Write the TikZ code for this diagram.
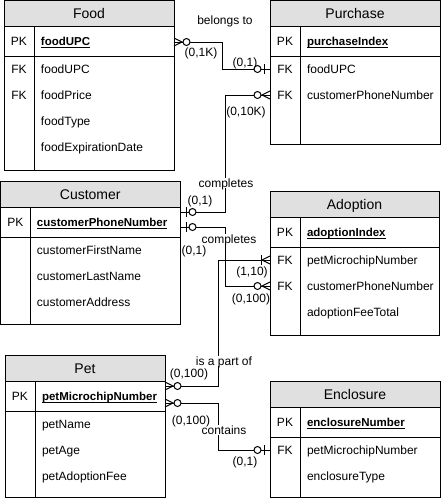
\documentclass[tikz,border=0pt]{standalone}
\usepackage{fontspec}
\setmainfont{Liberation Sans}
\usetikzlibrary{calc}
\definecolor{hdr}{RGB}{224,224,224}
\newcommand{\pkul}[1]{\setbox0\hbox{#1}\rlap{\rule[-3pt]{\wd0}{0.9pt}}\box0}
\tikzset{
  every node/.style={inner sep=0pt, outer sep=0pt, text height=8.6pt, text depth=0pt,
    font=\fontsize{12}{14}\selectfont},
  ttl/.style={font=\fontsize{14}{16}\selectfont, text height=10pt, anchor=center},
  keytxt/.style={anchor=center},
  rowtxt/.style={anchor=west},
  pktxt/.style={anchor=west, font=\fontsize{11.5}{14}\selectfont\bfseries},
  tbox/.style={draw, line width=1pt, anchor=north west},
  conn/.style={line width=1pt},
  lbl/.style={anchor=center, fill=white, inner sep=1pt},
  card/.style={anchor=center},
}
\newcommand{\ertab}[6]{%
  \node[tbox, minimum width={(#4-#2)*1pt}, minimum height={(#5-#3)*1pt}] (#1) at (#2,#3) {};
  \filldraw[conn, fill=hdr] (#2,#3) rectangle (#4,{#3+26});
  \draw[conn] (#2,{#3+56}) -- (#4,{#3+56});
  \draw[conn] ({#2+30},{#3+26}) -- ({#2+30},#5);
  \node[ttl] (#1-t) at ({(#2+#4)/2},{#3+13}) {#6};
}
% zero-or-many
\newcommand{\mkzm}[2]{%
  \draw[conn] ([yshift=4pt]#1) -- ($(#1)+(8*#2,0)$) -- ([yshift=-4pt]#1);
  \draw[conn, fill=white] ($(#1)+(12.5*#2,0)$) circle[radius=3.5pt];
}
% zero-or-one
\newcommand{\mkzo}[2]{%
  \draw[conn] ($(#1)+(6*#2,-5)$) -- ($(#1)+(6*#2,5)$);
  \draw[conn, fill=white] ($(#1)+(12.5*#2,0)$) circle[radius=3.5pt];
}
% one-or-many
\newcommand{\mkom}[2]{%
  \draw[conn] ([yshift=4pt]#1) -- ($(#1)+(8*#2,0)$) -- ([yshift=-4pt]#1);
  \draw[conn] ($(#1)+(9*#2,-5)$) -- ($(#1)+(9*#2,5)$);
}
\begin{document}
\begin{tikzpicture}[x=1pt, y=-1pt]
\useasboundingbox (0,0) rectangle (441,499);

% ---------- Food ----------
\ertab{food}{4}{0.5}{174}{170}{Food}
\node[keytxt] (food-pkk) at (19,41) {PK};
\node[pktxt] (food-pk) at (41,41) {\pkul{foodUPC}};
\node[keytxt] (food-k1) at (19,69) {FK};
\node[rowtxt] (food-r1) at (41,69) {foodUPC};
\node[keytxt] (food-k2) at (19,95) {FK};
\node[rowtxt] (food-r2) at (41,95) {foodPrice};
\node[rowtxt] (food-r3) at (41,121) {foodType};
\node[rowtxt] (food-r4) at (41,147) {foodExpirationDate};

% ---------- Purchase ----------
\ertab{purchase}{270}{0.5}{440}{144}{Purchase}
\node[keytxt] (purchase-pkk) at (285,41) {PK};
\node[pktxt] (purchase-pk) at (307,41) {\pkul{purchaseIndex}};
\node[keytxt] (purchase-k1) at (285,69) {FK};
\node[rowtxt] (purchase-r1) at (307,69) {foodUPC};
\node[keytxt] (purchase-k2) at (285,95) {FK};
\node[rowtxt] (purchase-r2) at (307,95) {customerPhoneNumber};

% ---------- Customer ----------
\ertab{customer}{0.5}{181}{180}{324}{Customer}
\node[keytxt] (customer-pkk) at (15.5,222) {PK};
\node[pktxt] (customer-pk) at (37,222) {\pkul{customerPhoneNumber}};
\node[rowtxt] (customer-r1) at (37,250) {customerFirstName};
\node[rowtxt] (customer-r2) at (37,276) {customerLastName};
\node[rowtxt] (customer-r3) at (37,302) {customerAddress};

% ---------- Adoption ----------
\ertab{adoption}{270}{191}{439}{335}{Adoption}
\node[keytxt] (adoption-pkk) at (285,232) {PK};
\node[pktxt] (adoption-pk) at (307,232) {\pkul{adoptionIndex}};
\node[keytxt] (adoption-k1) at (285,260) {FK};
\node[rowtxt] (adoption-r1) at (307,260) {petMicrochipNumber};
\node[keytxt] (adoption-k2) at (285,286) {FK};
\node[rowtxt] (adoption-r2) at (307,286) {customerPhoneNumber};
\node[rowtxt] (adoption-r3) at (307,312) {adoptionFeeTotal};

% ---------- Pet ----------
\ertab{pet}{5}{355}{165}{497}{Pet}
\node[keytxt] (pet-pkk) at (20,396) {PK};
\node[pktxt] (pet-pk) at (42,396) {\pkul{petMicrochipNumber}};
\node[rowtxt] (pet-r1) at (42,424) {petName};
\node[rowtxt] (pet-r2) at (42,450) {petAge};
\node[rowtxt] (pet-r3) at (42,476) {petAdoptionFee};

% ---------- Enclosure ----------
\ertab{enclosure}{270}{381}{440}{497}{Enclosure}
\node[keytxt] (enclosure-pkk) at (285,422) {PK};
\node[pktxt] (enclosure-pk) at (307,422) {\pkul{enclosureNumber}};
\node[keytxt] (enclosure-k1) at (285,450) {FK};
\node[rowtxt] (enclosure-r1) at (307,450) {petMicrochipNumber};
\node[rowtxt] (enclosure-r2) at (307,476) {enclosureType};

% ---------- connector end points ----------
\coordinate (fo1) at ([yshift=-1pt]food.east |- food-pk);
\coordinate (pu1) at (purchase.west |- purchase-r1);
\coordinate (cu1) at ([yshift=10pt]customer.east |- customer-pk);
\coordinate (pu2) at (purchase.west |- purchase-r2);
\coordinate (cu2) at ([yshift=-5pt]customer.east |- customer-pk);
\coordinate (ad2) at (adoption.west |- adoption-r2);
\coordinate (pe1) at ([yshift=10pt]pet.east |- pet-pk);
\coordinate (ad1) at (adoption.west |- adoption-r1);
\coordinate (pe2) at ([yshift=-7pt]pet.east |- pet-pk);
\coordinate (en1) at (enclosure.west |- enclosure-r1);

% ---------- connectors ----------
\draw[conn] (fo1) -- ++(48,0) |- (pu1);
\draw[conn] (cu1) -- ++(45,0) |- (pu2);
\draw[conn] (cu2) -- ++(45,0) |- (ad2);
\draw[conn] (pe1) -- ++(53,0) |- (ad1);
\draw[conn] (pe2) -- ++(53,0) |- (en1);

% ---------- labels ----------
\node[lbl] (l-belongs) at (225,20) {belongs to};
\node[lbl] (l-comp1) at (226,183) {completes};
\node[lbl] (l-comp2) at (229,239) {completes};
\node[lbl] (l-part) at (224,361) {is a part of};
\node[lbl] (l-cont) at (224,430) {contains};

\node[card] (c1) at (201,52) {(0,1K)};
\node[card] (c2) at (245,62) {(0,1)};
\node[card] (c3) at (246,111) {(0,10K)};
\node[card] (c4) at (200,200) {(0,1)};
\node[card] (c5) at (194,250) {(0,1)};
\node[card] (c6) at (252,271) {(1,10)};
\node[card] (c7) at (251,298) {(0,100)};
\node[card] (c8) at (189,373) {(0,100)};
\node[card] (c9) at (191,420) {(0,100)};
\node[card] (c10) at (245,461) {(0,1)};

% ---------- markers ----------
\mkzm{fo1}{1}
\mkzo{pu1}{-1}
\mkzo{cu1}{1}
\mkzm{pu2}{-1}
\mkzo{cu2}{1}
\mkzm{ad2}{-1}
\mkzm{pe1}{1}
\mkom{ad1}{-1}
\mkzm{pe2}{1}
\mkzo{en1}{-1}
\end{tikzpicture}
\end{document}
